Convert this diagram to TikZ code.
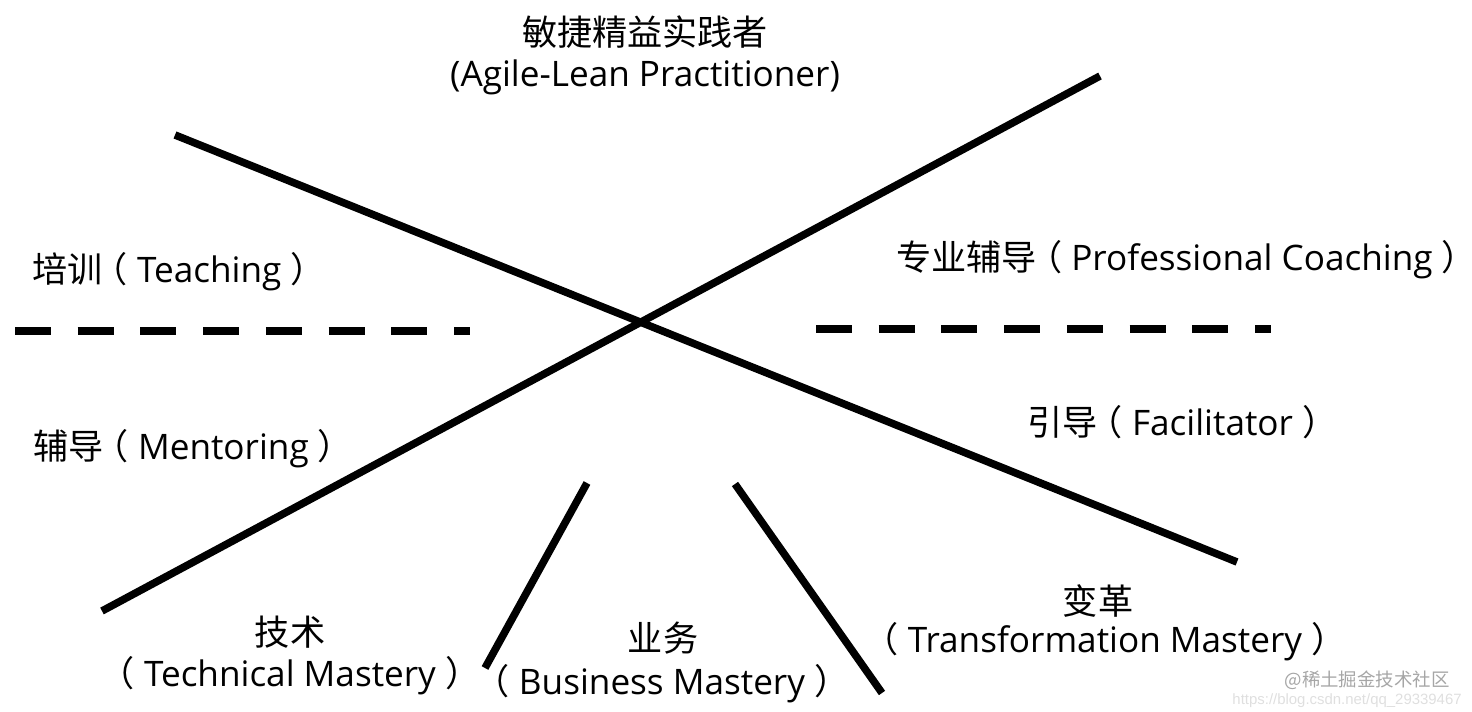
\documentclass[tikz,border=0pt]{standalone}
\usepackage{fontspec}
\setmainfont{Open Sans}
\newfontfamily\cjk{Noto Sans CJK SC}
\newfontfamily\urlfont{Liberation Sans}
\usepackage{tikz}
\usetikzlibrary{positioning, calc}
% parentesi a tutta larghezza
\newcommand{\lpar}{\kern-0.28em{\cjk （}\ }
\newcommand{\olpar}{\kern-0.6em{\cjk （}\ }
\newcommand{\rpar}{\ {\cjk ）}\kern-0.6em}

\begin{document}
\begin{tikzpicture}[x=0.02cm, y=-0.02cm,
    bar/.style={line width=4.3pt, black},
    sep/.style={line width=5.1pt, black, dash pattern=on 0.72cm off 0.535cm},
    lbl/.style={inner sep=0pt, font=\fontsize{20pt}{24pt}\selectfont},
    wmark/.style={inner sep=0pt, font=\fontsize{10.5pt}{12pt}\selectfont}]
        \useasboundingbox (0,0) rectangle (1472,712);

        % Estremi delle linee
        \coordinate (a1) at (175,135);
        \coordinate (a2) at (1237,562);
        \coordinate (b1) at (102,611);
        \coordinate (b2) at (1100,76);
        \coordinate (c1) at (587,483);
        \coordinate (c2) at (485,668);
        \coordinate (d1) at (735,484);
        \coordinate (d2) at (882,693);
        \coordinate (l1) at (15,331);
        \coordinate (l2) at (470,331);
        \coordinate (r1) at (816,329);
        \coordinate (r2) at (1271,329);

        % Linee
        \draw[bar] (a1) -- (a2);
        \draw[bar] (b1) -- (b2);
        \draw[bar] (c1) -- (c2);
        \draw[bar] (d1) -- (d2);
        \draw[sep] (l1) -- (l2);
        \draw[sep] (r1) -- (r2);

        % Titolo
        \node[lbl] (title) at (645,32) {\cjk 敏捷精益实践者};
        \node[lbl] (titleen) at (645,77) {(Agile-Lean Practitioner)};

        % Ruoli
        \node[lbl, anchor=west] (teach) at (32,272) {{\cjk 培训}\lpar Teaching\rpar};
        \node[lbl, anchor=west] (mentor) at (33,449) {{\cjk 辅导}\lpar Mentoring\rpar};
        \node[lbl, anchor=west] (coach) at (896,260) {{\cjk 专业辅导}\lpar Professional Coaching\rpar};
        \node[lbl, anchor=west] (facil) at (1027,422) {{\cjk 引导}\lpar Facilitator\rpar};

        % Competenze
        \node[lbl] (tech) at (290,632) {\cjk 技术};
        \node[lbl] (techen) at (290,676) {\olpar Technical Mastery\rpar};
        \node[lbl] (biz) at (663,638) {\cjk 业务};
        \node[lbl] (bizen) at (662,684) {\olpar Business Mastery\rpar};
        \node[lbl] (trans) at (1098,601) {\cjk 变革};
        \node[lbl] (transen) at (1105,642) {\olpar Transformation Mastery\rpar};

        % Filigrana
        \node[wmark, gray!70, anchor=east] (wm) at (1450,680) {\cjk @稀土掘金技术社区};
        \node[wmark, gray!25, anchor=east, font=\urlfont\fontsize{8.5pt}{10pt}\selectfont] (url) at (1462,701) {https://blog.csdn.net/qq\_29339467};
    \end{tikzpicture}
\end{document}
